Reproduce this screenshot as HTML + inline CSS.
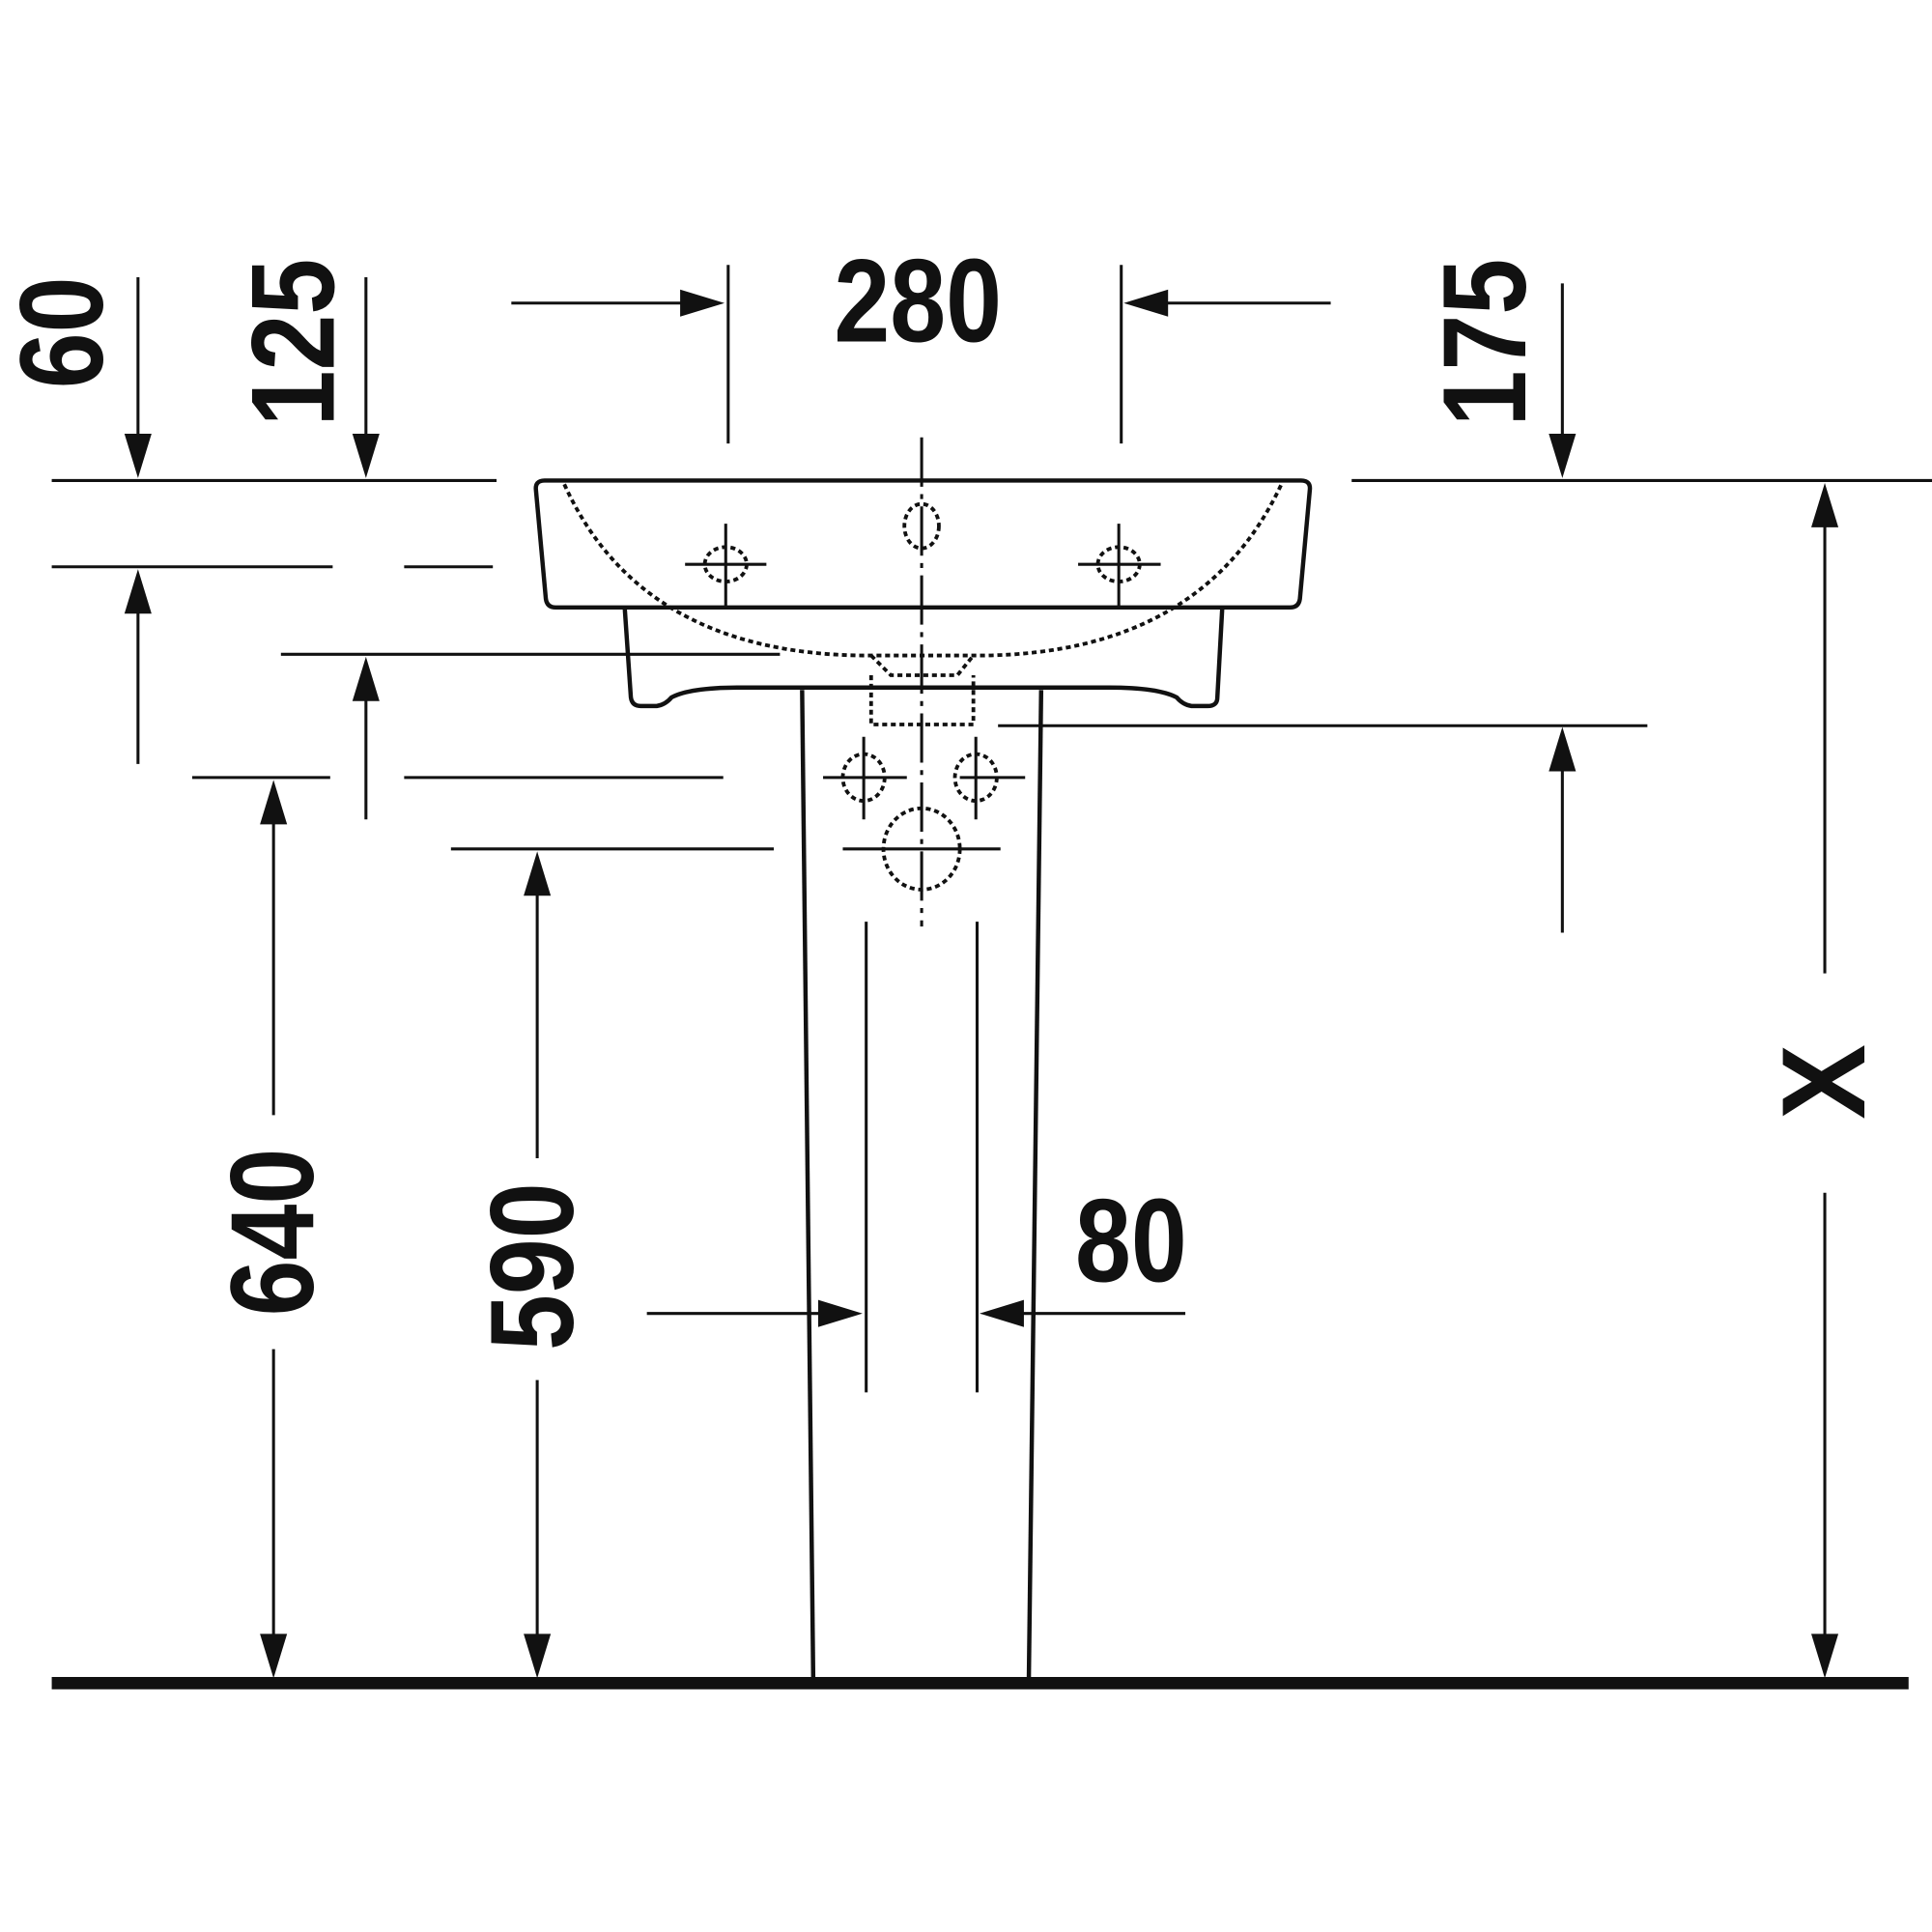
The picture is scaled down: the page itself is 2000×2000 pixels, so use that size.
<!DOCTYPE html>
<html><head><meta charset="utf-8"><style>html,body{margin:0;padding:0;background:#fff}svg{display:block}
text{font-family:"Liberation Sans",sans-serif;font-weight:bold;font-size:96px;fill:#111}</style></head>
<body>
<svg width="2000" height="2000" viewBox="0 0 1568 1568" xmlns="http://www.w3.org/2000/svg">
<g stroke="#111" stroke-width="2.4" fill="none">
<line x1="42" y1="1366" x2="1549" y2="1366" stroke-width="10"/>
<path d="M442,390 L1056,390 Q1064,390 1063,398 L1055,486 Q1054,493 1047,493 L451,493 Q444,493 443,486 L435,398 Q434,390 442,390 Z" stroke-width="3.5"/>
<path d="M507,493 L512,566 Q513,573 520,573 L533,573 Q540,572 545,566 Q560,558 600,558 L900,558 Q940,558 955,566 Q960,572 967,573 L980,573 Q988,573 988,566 L992,493" stroke-width="3.5"/>
<line x1="651" y1="560" x2="660" y2="1362" stroke-width="3.5"/>
<line x1="845" y1="560" x2="835" y2="1362" stroke-width="3.5"/>
<g stroke-dasharray="4,3" stroke-width="3">
<path d="M458,393 Q520,530 700,532 L798,532 Q976,530 1040,393"/>
<path d="M707,532 L723,548 L777,548 L790,532"/>
<path d="M707,548 L707,588 L790,588 L790,548"/>
<ellipse cx="748" cy="427" rx="14" ry="18"/>
<ellipse cx="589" cy="458" rx="17" ry="14"/>
<ellipse cx="908" cy="458" rx="17" ry="14"/>
<ellipse cx="701" cy="631" rx="17" ry="19"/>
<ellipse cx="792" cy="631" rx="17" ry="19"/>
<ellipse cx="748" cy="689" rx="31" ry="33"/>
</g>
<line x1="748" y1="355" x2="748" y2="752" stroke-dasharray="40,6,4,6"/>
<line x1="556" y1="458" x2="622" y2="458"/><line x1="589" y1="425" x2="589" y2="492"/>
<line x1="875" y1="458" x2="942" y2="458"/><line x1="908" y1="425" x2="908" y2="492"/>
<line x1="668" y1="631" x2="736" y2="631"/><line x1="701" y1="598" x2="701" y2="665"/>
<line x1="779" y1="631" x2="832" y2="631"/><line x1="792" y1="598" x2="792" y2="665"/>
<line x1="684" y1="689" x2="812" y2="689"/>
<line x1="703" y1="748" x2="703" y2="1130"/><line x1="793" y1="748" x2="793" y2="1130"/>
<line x1="42" y1="390" x2="403" y2="390"/>
<line x1="42" y1="460" x2="270" y2="460"/><line x1="328" y1="460" x2="400" y2="460"/>
<line x1="228" y1="531" x2="633" y2="531"/>
<line x1="156" y1="631" x2="268" y2="631"/><line x1="328" y1="631" x2="587" y2="631"/>
<line x1="366" y1="689" x2="628" y2="689"/>
<line x1="1097" y1="390" x2="1568" y2="390"/>
<line x1="810" y1="589" x2="1337" y2="589"/>
<line x1="591" y1="215" x2="591" y2="360"/><line x1="910" y1="215" x2="910" y2="360"/>
<line x1="112" y1="225" x2="112" y2="360"/>
<line x1="112" y1="490" x2="112" y2="620"/>
<line x1="297" y1="225" x2="297" y2="360"/>
<line x1="297" y1="560" x2="297" y2="665"/>
<line x1="1268" y1="230" x2="1268" y2="360"/>
<line x1="1268" y1="620" x2="1268" y2="757"/>
<line x1="1481" y1="420" x2="1481" y2="790"/>
<line x1="1481" y1="968" x2="1481" y2="1335"/>
<line x1="222" y1="660" x2="222" y2="905"/><line x1="222" y1="1095" x2="222" y2="1335"/>
<line x1="436" y1="718" x2="436" y2="940"/><line x1="436" y1="1120" x2="436" y2="1335"/>
<line x1="415" y1="246" x2="560" y2="246"/><line x1="940" y1="246" x2="1080" y2="246"/>
<line x1="525" y1="1066" x2="670" y2="1066"/><line x1="825" y1="1066" x2="962" y2="1066"/>
</g>
<g fill="#111">
<polygon points="101,352 123,352 112,388"/>
<polygon points="286,352 308,352 297,388"/>
<polygon points="1257,352 1279,352 1268,388"/>
<polygon points="211,1326 233,1326 222,1362"/>
<polygon points="425,1326 447,1326 436,1362"/>
<polygon points="1470,1326 1492,1326 1481,1362"/>
<polygon points="101,498 123,498 112,462"/>
<polygon points="286,569 308,569 297,533"/>
<polygon points="1257,626 1279,626 1268,590"/>
<polygon points="211,669 233,669 222,633"/>
<polygon points="425,727 447,727 436,691"/>
<polygon points="1470,428 1492,428 1481,392"/>
<polygon points="552,235 552,257 588,246"/>
<polygon points="948,235 948,257 912,246"/>
<polygon points="664,1055 664,1077 700,1066"/>
<polygon points="831,1055 831,1077 795,1066"/>
</g>
<text x="745" y="277" text-anchor="middle" transform="translate(745,0) scale(0.85,1) translate(-745,0)">280</text>
<text x="918" y="1040" text-anchor="middle" transform="translate(918,0) scale(0.85,1) translate(-918,0)">80</text>
<text text-anchor="middle" transform="translate(83,270) rotate(-90) scale(0.85,1)">60</text>
<text text-anchor="middle" transform="translate(271,278) rotate(-90) scale(0.85,1)">125</text>
<text text-anchor="middle" transform="translate(1238,278) rotate(-90) scale(0.85,1)">175</text>
<text text-anchor="middle" transform="translate(254,1000) rotate(-90) scale(0.85,1)">640</text>
<text text-anchor="middle" transform="translate(465,1028) rotate(-90) scale(0.85,1)">590</text>
<text text-anchor="middle" transform="translate(1513,878) rotate(-90) scale(0.95,1)">X</text>
</svg>
</body></html>
